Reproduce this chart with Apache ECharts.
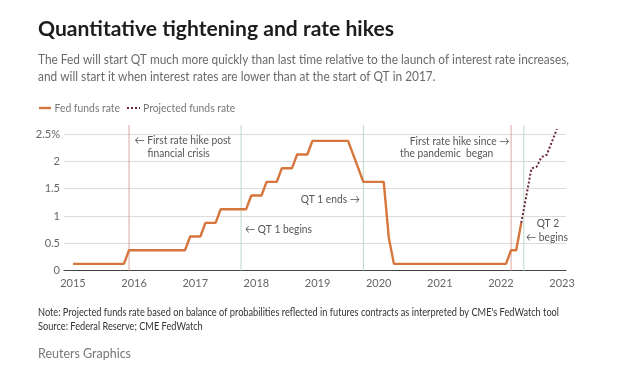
<!DOCTYPE html>
<html>
<head>
<meta charset="utf-8">
<script src="https://cdn.jsdelivr.net/npm/echarts@6/dist/echarts.min.js"></script>
<style>
html,body{margin:0;padding:0;background:#fff;}
#chart{width:630px;height:379px;}
</style>
</head>
<body>
<div id="chart"></div>
<script>
// ---- Data ----
// Fed funds rate (midpoint of target range, %) – vertices of the plotted line, by month
const fedDates = ['2015-01','2015-11','2015-12','2016-11','2016-12','2017-02','2017-03','2017-05','2017-06','2017-11','2017-12','2018-02','2018-03','2018-05','2018-06','2018-08','2018-09','2018-11','2018-12','2019-07','2019-10','2020-02','2020-03','2020-04','2022-02','2022-03','2022-04','2022-05'];
const fedValues = [0.125,0.125,0.375,0.375,0.625,0.625,0.875,0.875,1.125,1.125,1.375,1.375,1.625,1.625,1.875,1.875,2.125,2.125,2.375,2.375,1.625,1.625,0.6,0.125,0.125,0.375,0.375,0.875];
// Projected funds rate (%)
const projDates = ['2022-05','2022-07','2022-08','2022-09','2022-10','2022-12'];
const projValues = [0.875,1.87,1.9,2.08,2.12,2.59];
// Event markers (fractional years)
const rateHikeYears = [2015.917, 2022.167];
const qtYears = [2017.75, 2019.75, 2022.375];
// Axis ticks
const xTickYears = [2015,2016,2017,2018,2019,2020,2021,2022,2023];
const yTicks = [0,0.5,1,1.5,2,2.5];
const yTickLabels = ['0','0.5','1','1.5','2','2.5%'];
const seriesNames = ['Fed funds rate','Projected funds rate'];

const toYear = d => { const p = d.split('-'); return Number(p[0]) + (Number(p[1]) - 1) / 12; };

const FONT = 'Lato';
const ORANGE = '#d7763c';
const DOTC = '#6a2536';
const RED = '#dca7a7';
const GREEN = '#bcd8c6';

// text measuring, to mimic the reference's narrow typeface
const mctx = document.createElement('canvas').getContext('2d');
function textW(text, size, weight) { mctx.font = (weight || 'normal') + ' ' + size + 'px ' + FONT; return mctx.measureText(text).width; }
function fitScale(text, size, target, weight) { return target / textW(text, size, weight); }

const vLineSeries = [];
rateHikeYears.forEach(x => vLineSeries.push({type:'line', silent:true, symbol:'none', clip:false, z:1,
  data:[[x,0],[x,2.665]], lineStyle:{color:RED, width:1}}));
qtYears.forEach(x => vLineSeries.push({type:'line', silent:true, symbol:'none', clip:false, z:1,
  data:[[x,0],[x,2.665]], lineStyle:{color:GREEN, width:1}}));

const chart = echarts.init(document.getElementById('chart'), null, {renderer:'canvas'});
chart.setOption({
  animation:false,
  backgroundColor:'#fff',
  grid:{left:64, right:64, top:134, bottom:108.3},
  xAxis:{
    type:'value', min:2014.853, max:2023.065,
    axisLine:{lineStyle:{color:'#444', width:1}},
    axisTick:{show:false},
    splitLine:{show:false},
    axisLabel:{customValues:xTickYears, formatter:v => String(Math.round(v)), fontFamily:FONT, fontSize:11, color:'#666', margin:7}
  },
  yAxis:{
    type:'value', min:0, max:2.5, interval:0.5,
    axisLine:{show:false}, axisTick:{show:false},
    splitLine:{lineStyle:{color:'#dcdcdc', width:1}},
    axisLabel:{formatter:v => { const i = yTicks.indexOf(v); return i >= 0 ? yTickLabels[i] : String(v); }, fontFamily:FONT, fontSize:11, color:'#666', margin:4}
  },
  series: vLineSeries.concat([
    {name:seriesNames[0], type:'line', symbol:'none', clip:false, silent:true,
     data:fedDates.map((d,i)=>[toYear(d), fedValues[i]]),
     lineStyle:{color:ORANGE, width:2.4}, z:3},
    {name:seriesNames[1], type:'line', symbol:'none', clip:false, silent:true,
     data:projDates.map((d,i)=>[toYear(d), projValues[i]]),
     lineStyle:{color:DOTC, width:2, type:[2,2]}, z:4}
  ])
});

// ---- Texts ----
const graphics = [];
function addText(x, y, text, size, color, opts) {
  opts = opts || {};
  graphics.push({type:'text', x:x, y:y, scaleX:opts.scale || 1, silent:true, z:10,
    style:{text:text, fill:color, fontFamily:FONT, fontSize:size, fontWeight:opts.weight || 'normal',
      align:opts.align || 'left', verticalAlign:'middle'}});
}
// title
const titleTxt = 'Quantitative tightening and rate hikes';
addText(38, 30, titleTxt, 20, '#1c1c1c', {weight:'bold', scale:fitScale(titleTxt, 20, 356, 'bold')});
// subtitle
const sub1 = 'The Fed will start QT much more quickly than last time relative to the launch of interest rate increases,';
const sub2 = 'and will start it when interest rates are lower than at the start of QT in 2017.';
const subScale = fitScale(sub1, 13, 531);
addText(38, 60, sub1, 13, '#6a6a6a', {scale:subScale});
addText(38, 76.5, sub2, 13, '#6a6a6a', {scale:subScale});
// legend (drawn by hand so the keys match the reference)
const legScale = fitScale(seriesNames[0], 11.5, 65.5);
graphics.push({type:'line', silent:true, shape:{x1:39, y1:108, x2:51, y2:108}, style:{stroke:ORANGE, lineWidth:2.4}});
addText(54.5, 108, seriesNames[0], 11.5, '#777', {scale:legScale});
graphics.push({type:'line', silent:true, shape:{x1:127, y1:108, x2:140, y2:108}, style:{stroke:DOTC, lineWidth:2, lineDash:[2,2]}});
addText(143, 108, seriesNames[1], 11.5, '#777', {scale:legScale});
// footer
const note1 = "Note: Projected funds rate based on balance of probabilities reflected in futures contracts as interpreted by CME's FedWatch tool";
const note2 = 'Source: Federal Reserve; CME FedWatch';
const noteScale = fitScale(note1, 10.5, 521);
addText(38, 313, note1, 10.5, '#333', {scale:noteScale});
addText(38, 327, note2, 10.5, '#333', {scale:noteScale});
const rg = 'Reuters Graphics';
addText(38, 353, rg, 14, '#777', {scale:fitScale(rg, 14, 93)});

// annotations anchored in data coordinates
const annScale = fitScale('First rate hike post', 12, 83.7);
const notes = [
  {x:2016.006, y:2.39, text:'\u2190 First rate hike post', align:'left'},
  {x:2016.22, y:2.158, text:'financial crisis', align:'left'},
  {x:2022.14, y:2.377, text:'First rate hike since \u2192', align:'right'},
  {x:2021.876, y:2.147, text:'the pandemic  began', align:'right'},
  {x:2019.695, y:1.311, text:'QT 1 ends \u2192', align:'right'},
  {x:2017.814, y:0.757, text:'\u2190 QT 1 begins', align:'left'},
  {x:2022.586, y:0.867, text:'QT 2', align:'left'},
  {x:2022.411, y:0.622, text:'\u2190 begins', align:'left'}
];
notes.forEach(n => {
  const p = chart.convertToPixel({gridIndex:0}, [n.x, n.y]);
  addText(p[0], p[1], n.text, 12, '#555', {align:n.align, scale:annScale});
});
chart.setOption({graphic: graphics});
</script>
</body>
</html>
